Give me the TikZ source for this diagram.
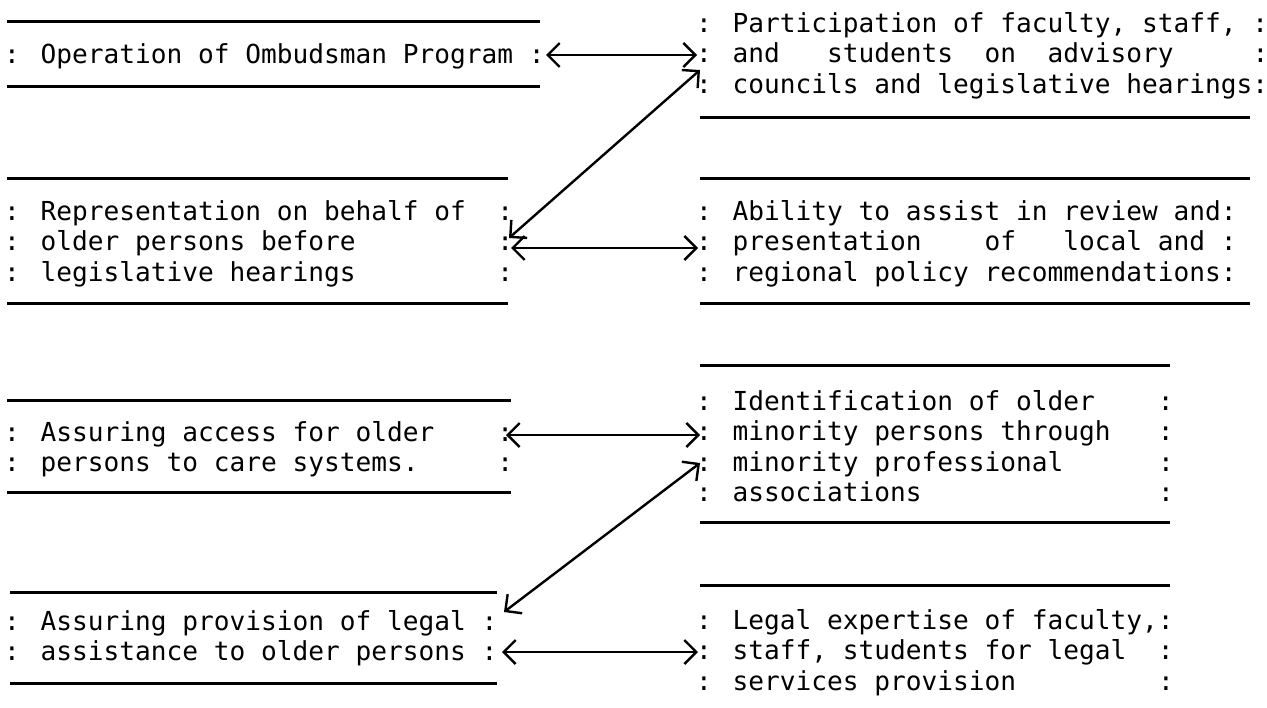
\documentclass[tikz,border=0pt]{standalone}
\usepackage{fontspec}
\usetikzlibrary{arrows.meta}
\newfontfamily\tw{DejaVu Sans Mono}
\tikzset{
  txt/.style={anchor=base west, inner sep=0pt, outer sep=0pt, align=left,
    font={\tw\fontsize{13.08pt}{15.25pt}\selectfont}},
  rule/.style={line width=1.5pt},
  link/.style={line width=1.2pt, {Straight Barb[length=6pt,width=12pt]}-{Straight Barb[length=6pt,width=12pt]}}
}
\begin{document}
\begin{tikzpicture}[x=0.5pt,y=-0.5pt]
\useasboundingbox (0,0) rectangle (1267,707);
% left boxes (anchor = baseline of the last line)
\draw[rule] (7,21) -- (540,21);
\draw[rule] (7,86) -- (540,86);
\node[txt] (L1) at (4,63) {: Operation of Ombudsman Program :};

\draw[rule] (7,178) -- (508,178);
\draw[rule] (7,303) -- (508,303);
\node[txt] (L2) at (4,281) {: Representation on behalf of~~:\\: older persons before~~~~~~~~~:\\: legislative hearings~~~~~~~~~:};

\draw[rule] (7,400) -- (511,400);
\draw[rule] (7,492) -- (511,492);
\node[txt] (L3) at (4,471.5) {: Assuring access for older~~~~:\\: persons to care systems.~~~~~:};

\draw[rule] (10,592) -- (497,592);
\draw[rule] (10,683) -- (497,683);
\node[txt] (L4) at (4,660.5) {: Assuring provision of legal :\\: assistance to older persons :};

% right boxes
\draw[rule] (700,117) -- (1250,117);
\node[txt] (R1) at (696,93) {: Participation of faculty, staff, :\\: and~~~students~~on~~advisory~~~~~:\\: councils and legislative hearings:};

\draw[rule] (700,178) -- (1250,178);
\draw[rule] (700,303) -- (1250,303);
\node[txt] (R2) at (696,281) {: Ability to assist in review and:\\: presentation~~~~of~~~local~and :\\: regional policy recommendations:};

\draw[rule] (700,365) -- (1170,365);
\draw[rule] (700,522) -- (1170,522);
\node[txt] (R3) at (696,501.5) {: Identification of older~~~~:\\: minority persons through~~~:\\: minority professional~~~~~~:\\: associations~~~~~~~~~~~~~~~:};

\draw[rule] (700,585) -- (1170,585);
\node[txt] (R4) at (696,690) {: Legal expertise of faculty,:\\: staff, students for legal~~:\\: services provision~~~~~~~~~:};

% connector ends
\coordinate (a1l) at (546,55);  \coordinate (a1r) at (697,55);
\coordinate (a2l) at (509,238); \coordinate (a2r) at (700,70);
\coordinate (a3l) at (511,248); \coordinate (a3r) at (698,248);
\coordinate (a4l) at (506,435); \coordinate (a4r) at (700,435);
\coordinate (a5l) at (504,612); \coordinate (a5r) at (700,463);
\coordinate (a6l) at (502,652); \coordinate (a6r) at (698,652);
\draw[link] (a1l) -- (a1r);
\draw[link] (a2l) -- (a2r);
\draw[link] (a3l) -- (a3r);
\draw[link] (a4l) -- (a4r);
\draw[link] (a5l) -- (a5r);
\draw[link] (a6l) -- (a6r);
\end{tikzpicture}
\end{document}
